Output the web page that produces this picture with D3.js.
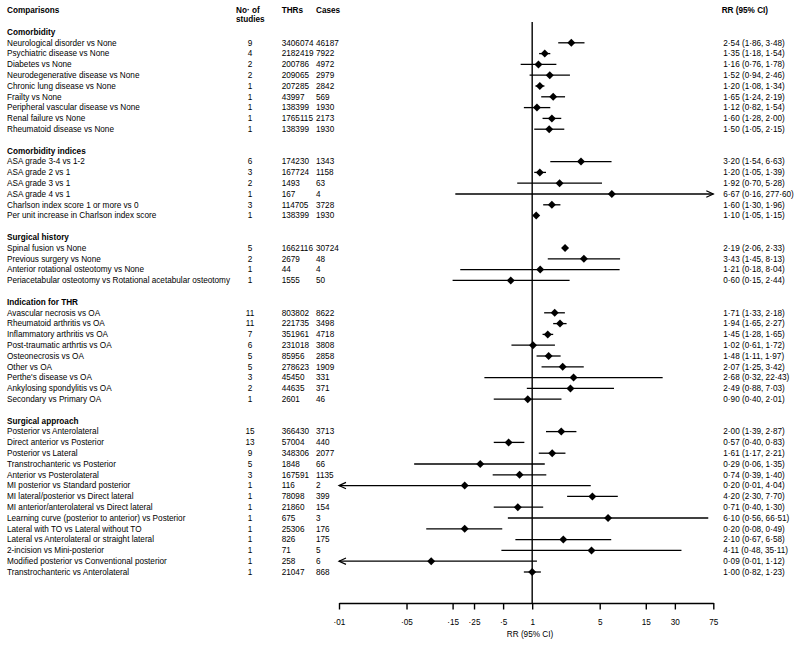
<!DOCTYPE html>
<html>
<head>
<meta charset="utf-8">
<script src="https://cdn.jsdelivr.net/npm/d3@7"></script>
<style>
  html, body { margin: 0; padding: 0; background: #fff; }
  svg { display: block; font-family: "Liberation Sans", Arial, sans-serif; }
</style>
</head>
<body>
<svg id="chart" width="800" height="646"></svg>
<script>
// ---------------- DATA ----------------
const groups = ["Comorbidity", "Comorbidity indices", "Surgical history", "Indication for THR", "Surgical approach"];

const comparisons = [
  "Neurological disorder vs None", "Psychiatric disease vs None", "Diabetes vs None",
  "Neurodegenerative disease vs None", "Chronic lung disease vs None", "Frailty vs None",
  "Peripheral vascular disease vs None", "Renal failure vs None", "Rheumatoid disease vs None",
  "ASA grade 3-4 vs 1-2", "ASA grade 2 vs 1", "ASA grade 3 vs 1", "ASA grade 4 vs 1",
  "Charlson index score 1 or more vs 0", "Per unit increase in Charlson index score",
  "Spinal fusion vs None", "Previous surgery vs None", "Anterior rotational osteotomy vs None",
  "Periacetabular osteotomy vs Rotational acetabular osteotomy",
  "Avascular necrosis vs OA", "Rheumatoid arthritis vs OA", "Inflammatory arthritis vs OA",
  "Post-traumatic arthrtis vs OA", "Osteonecrosis vs OA", "Other vs OA", "Perthe's disease vs OA",
  "Ankylosing spondylitis vs OA", "Secondary vs Primary OA",
  "Posterior vs Anterolateral", "Direct anterior vs Posterior", "Posterior vs Lateral",
  "Transtrochanteric vs Posterior", "Anterior vs Posterolateral", "MI posterior vs Standard posterior",
  "MI lateral/posterior vs Direct lateral", "MI anterior/anterolateral vs Direct lateral",
  "Learning curve (posterior to anterior) vs Posterior", "Lateral with TO vs Lateral without TO",
  "Lateral vs Anterolateral or straight lateral", "2-incision vs Mini-posterior",
  "Modified posterior vs Conventional posterior", "Transtrochanteric vs Anterolateral"
];

const groupOf = [
  0,0,0,0,0,0,0,0,0,
  1,1,1,1,1,1,
  2,2,2,2,
  3,3,3,3,3,3,3,3,3,
  4,4,4,4,4,4,4,4,4,4,4,4,4,4
];

const studies = [9,4,2,2,1,1,1,1,1, 6,3,2,1,3,1, 5,2,1,1, 11,11,7,6,5,5,3,2,1, 15,13,9,5,3,1,1,1,1,1,1,1,1,1];

const thrs = [3406074,2182419,200786,209065,207285,43997,138399,1765115,138399,
  174230,167724,1493,167,114705,138399,
  1662116,2679,44,1555,
  803802,221735,351961,231018,85956,278623,45450,44635,2601,
  366430,57004,348306,1848,167591,116,78098,21860,675,25306,826,71,258,21047];

const cases = [46187,7922,4972,2979,2842,569,1930,2173,1930,
  1343,1158,63,4,3728,1930,
  30724,48,4,50,
  8622,3498,4718,3808,2858,1909,331,371,46,
  3713,440,2077,66,1135,2,399,154,3,176,175,5,6,868];

const rr = [2.54,1.35,1.16,1.52,1.20,1.65,1.12,1.60,1.50,
  3.20,1.20,1.92,6.67,1.60,1.10,
  2.19,3.43,1.21,0.60,
  1.71,1.94,1.45,1.02,1.48,2.07,2.68,2.49,0.90,
  2.00,0.57,1.61,0.29,0.74,0.20,4.20,0.71,6.10,0.20,2.10,4.11,0.09,1.00];

const lo = [1.86,1.18,0.76,0.94,1.08,1.24,0.82,1.28,1.05,
  1.54,1.05,0.70,0.16,1.30,1.05,
  2.06,1.45,0.18,0.15,
  1.33,1.65,1.28,0.61,1.11,1.25,0.32,0.88,0.40,
  1.39,0.40,1.17,0.06,0.39,0.01,2.30,0.40,0.56,0.08,0.67,0.48,0.01,0.82];

const hi = [3.48,1.54,1.78,2.46,1.34,2.19,1.54,2.00,2.15,
  6.63,1.39,5.28,277.60,1.96,1.15,
  2.33,8.13,8.04,2.44,
  2.18,2.27,1.65,1.72,1.97,3.42,22.43,7.03,2.01,
  2.87,0.83,2.21,1.35,1.40,4.04,7.70,1.30,66.51,0.49,6.58,35.11,1.12,1.23];

const tickValues = [0.01, 0.05, 0.15, 0.25, 0.5, 1, 5, 15, 30, 75];
const tickLabels = ["·01", "·05", "·15", "·25", "·5", "1", "5", "15", "30", "75"];

// ---------------- LAYOUT ----------------
const svg = d3.select("#chart");
const FS = 8.2;
const rowH = 10.8, row0 = 32;
const colComp = 7, colStudies = 250, colThrs = 281.7, colCases = 316, colRR = 723.3;
const axisY = 603;

const x = d3.scaleLog().domain([0.01, 75]).range([339, 713.3]);

// build row list: group heading, items, blank
const rows = [];
groups.forEach((g, gi) => {
  if (gi > 0) rows.push({type: "blank"});
  rows.push({type: "head", label: g});
  groupOf.forEach((gg, i) => { if (gg === gi) rows.push({type: "item", i}); });
});
const yPos = idx => row0 + idx * rowH;

const dot = s => s.replace(/\./g, "·");
const f2 = v => dot(d3.format(".2f")(v));

// header
const hdr = svg.append("g").attr("font-size", FS).attr("font-weight", "bold").attr("fill", "#000");
hdr.append("text").attr("x", colComp).attr("y", 10).attr("dy", "0.35em").text("Comparisons");
hdr.append("text").attr("x", 236).attr("y", 10).attr("dy", "0.35em").text("No· of");
hdr.append("text").attr("x", 236).attr("y", 19.3).attr("dy", "0.35em").text("studies");
hdr.append("text").attr("x", colThrs).attr("y", 10).attr("dy", "0.35em").text("THRs");
hdr.append("text").attr("x", colCases).attr("y", 10).attr("dy", "0.35em").text("Cases");
hdr.append("text").attr("x", 721.7).attr("y", 10).attr("dy", "0.35em").text("RR (95% CI)");

// rows text
const tg = svg.append("g").attr("font-size", FS).attr("fill", "#000");
rows.forEach((r, idx) => {
  const y = yPos(idx);
  if (r.type === "head") {
    tg.append("text").attr("x", colComp).attr("y", y).attr("dy", "0.35em")
      .attr("font-weight", "bold").text(r.label);
  } else if (r.type === "item") {
    const i = r.i;
    tg.append("text").attr("x", colComp).attr("y", y).attr("dy", "0.35em").text(comparisons[i]);
    tg.append("text").attr("x", colStudies).attr("y", y).attr("dy", "0.35em")
      .attr("text-anchor", "middle").text(studies[i]);
    tg.append("text").attr("x", colThrs).attr("y", y).attr("dy", "0.35em").text(thrs[i]);
    tg.append("text").attr("x", colCases).attr("y", y).attr("dy", "0.35em").text(cases[i]);
    tg.append("text").attr("x", colRR).attr("y", y).attr("dy", "0.35em")
      .text(`${f2(rr[i])} (${f2(lo[i])}, ${f2(hi[i])})`);
  }
});

// reference line at 1
svg.append("line").attr("x1", x(1)).attr("x2", x(1)).attr("y1", 22).attr("y2", axisY)
  .attr("stroke", "#000").attr("stroke-width", 1.4);

// CI lines, arrows, diamonds
const [dMin, dMax] = x.domain();
const pg = svg.append("g");
const itemRows = rows.map((r, idx) => ({r, idx})).filter(d => d.r.type === "item");
itemRows.forEach(({r, idx}) => {
  const i = r.i, y = yPos(idx);
  const l = Math.max(lo[i], dMin), h = Math.min(hi[i], dMax);
  const x1 = x(l), x2 = x(h);
  pg.append("line").attr("x1", x1).attr("x2", x2).attr("y1", y).attr("y2", y)
    .attr("stroke", "#000").attr("stroke-width", 1.3);
  const ah = 7, aw = 3.2;
  if (lo[i] <= dMin) {
    pg.append("path").attr("d", `M${x1 + ah},${y - aw}L${x1},${y}L${x1 + ah},${y + aw}`)
      .attr("fill", "none").attr("stroke", "#000").attr("stroke-width", 1.2);
  }
  if (hi[i] >= dMax) {
    pg.append("path").attr("d", `M${x2 - ah},${y - aw}L${x2},${y}L${x2 - ah},${y + aw}`)
      .attr("fill", "none").attr("stroke", "#000").attr("stroke-width", 1.2);
  }
  const cx = x(rr[i]), s = 4;
  pg.append("path").attr("d", `M${cx},${y - s}L${cx + s},${y}L${cx},${y + s}L${cx - s},${y}Z`)
    .attr("fill", "#000");
});

// x axis
const axis = d3.axisBottom(x).tickValues(tickValues)
  .tickFormat((d, k) => tickLabels[k]).tickSize(6.5).tickSizeOuter(0).tickPadding(9.5);
const ag = svg.append("g").attr("transform", `translate(0,${axisY})`).call(axis);
ag.select(".domain").attr("stroke", "#000").attr("stroke-width", 1.4);
ag.selectAll(".tick line").attr("stroke", "#000").attr("stroke-width", 1.4);
ag.selectAll(".tick text").attr("font-size", FS).attr("fill", "#000")
  .attr("font-family", "Liberation Sans, Arial, sans-serif");

svg.append("text").attr("x", 530).attr("y", 634).attr("dy", "0.35em")
  .attr("text-anchor", "middle").attr("font-size", FS).attr("fill", "#000").text("RR (95% CI)");
</script>
</body>
</html>
